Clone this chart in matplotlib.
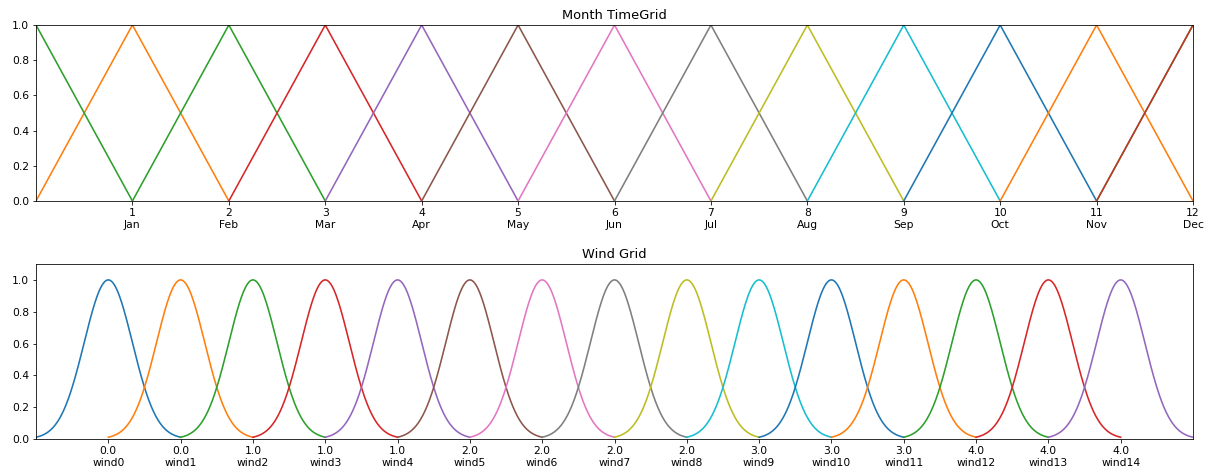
import numpy as np
from matplotlib import pyplot as plt

# month grid: one triangle per month, peak at month number
months = ['Jan', 'Feb', 'Mar', 'Apr', 'May', 'Jun',
          'Jul', 'Aug', 'Sep', 'Oct', 'Nov', 'Dec']
month_nums = [1, 2, 3, 4, 5, 6, 7, 8, 9, 10, 11, 12]

# wind grid: tick values and names, one bell per entry
wind_names = ['wind%d' % i for i in range(15)]
wind_vals = [0.0, 0.0, 1.0, 1.0, 1.0, 2.0, 2.0, 2.0, 2.0,
             3.0, 3.0, 3.0, 4.0, 4.0, 4.0]
wind_sigma = 1 / 3  # width of each bell, in grid steps

plt.rcParams['font.size'] = 10.8
plt.rcParams['axes.titlesize'] = 13
plt.rcParams['lines.linewidth'] = 1.6


def tri(c):
    return [c - 1, c, c + 1], [0, 1, 0]


def bell(c, s):
    x = np.linspace(c - 1, c + 1, 200)
    return x, np.exp(-(x - c) ** 2 / (2 * s ** 2))


fig = plt.figure(figsize=(1210 / 72, 474 / 72), dpi=72)
ax1 = fig.add_axes([36 / 1210, 1 - 201 / 474, 1157 / 1210, 176 / 474])
ax2 = fig.add_axes([36 / 1210, 1 - 439 / 474, 1157 / 1210, 175 / 474])

for i, m in enumerate(month_nums):
    x, y = tri(m)
    ax1.plot(x, y, color='C%d' % ((i + 1) % 10))
# December wraps round to the start of the year
x, y = tri(0)
ax1.plot(x, y, color='C%d' % (len(month_nums) % 10))
ax1.plot([month_nums[-2], month_nums[-1]], [0, 1],
         color='C%d' % ((len(month_nums) + 1) % 10), alpha=0.9)
ax1.set_xlim(0, 12)
ax1.set_ylim(0, 1)
ax1.set_xticks(month_nums)
ax1.set_xticklabels(['%d\n%s' % (n, m) for n, m in zip(month_nums, months)])
ax1.set_yticks(np.arange(0, 1.01, 0.2))
ax1.set_title('Month TimeGrid')

for i in range(len(wind_names)):
    x, y = bell(i, wind_sigma)
    ax2.plot(x, y, color='C%d' % (i % 10))
ax2.set_xlim(-1, len(wind_names))
ax2.set_ylim(0, 1.1)
ax2.set_xticks(range(len(wind_names)))
ax2.set_xticklabels(['%.1f\n%s' % (v, n) for v, n in zip(wind_vals, wind_names)])
ax2.set_yticks(np.arange(0, 1.01, 0.2))
ax2.set_title('Wind Grid')

plt.savefig('out.png', dpi=72)
